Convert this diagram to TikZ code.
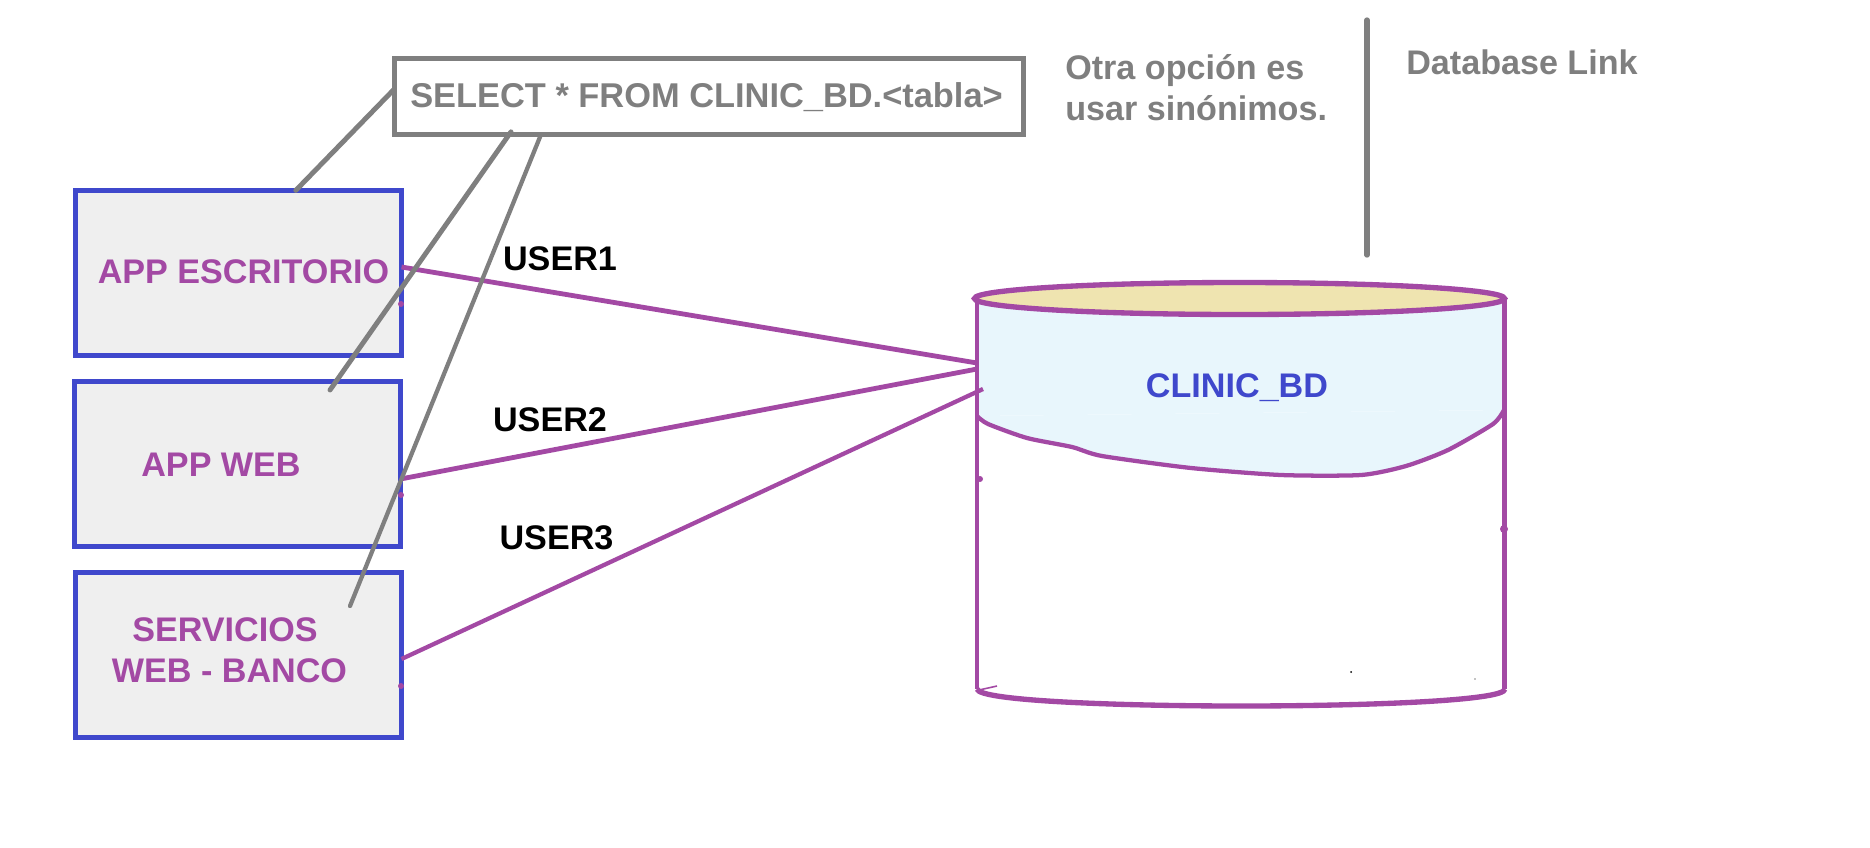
\documentclass[tikz,border=0pt]{standalone}
\usepackage{fontspec}
\setmainfont{Liberation Sans}
\definecolor{linegray}{HTML}{7F7F7F}
\definecolor{boxblue}{HTML}{3F48CC}
\definecolor{dbpurple}{HTML}{A349A4}
\definecolor{boxfill}{HTML}{EFEFEF}
\definecolor{dbtop}{HTML}{EFE4B0}
\definecolor{dbdata}{HTML}{E8F6FC}
\tikzset{
  appbox/.style={draw=boxblue, fill=boxfill, line width=3.6pt, rectangle, inner sep=0pt, outer sep=0pt, minimum width=244.5pt, minimum height=124pt},
  sqlbox/.style={draw=linegray, line width=3.6pt, rectangle, inner sep=0pt, outer sep=0pt, minimum width=472pt, minimum height=57pt},
  label/.style={font=\fontsize{25.6pt}{30pt}\selectfont\bfseries, inner sep=0pt},
  grayline/.style={draw=linegray, line width=3.7pt, line cap=round},
  userline/.style={draw=dbpurple, line width=3.6pt},
  dbline/.style={draw=dbpurple, line width=3.2pt},
  dbedge/.style={draw=dbpurple, line width=4pt}
}
\begin{document}
\begin{tikzpicture}[x=0.75pt, y=-0.75pt]
\useasboundingbox (0, 0) rectangle (1870, 847);

% Boxes on the left and the query
\node[appbox] (escritorio) at (238.5, 273) {};
\node[appbox] (web) at (237.5, 464) {};
\node[appbox] (banco) at (238.5, 655) {};
\node[sqlbox] (consulta) at (709, 96.5) {};

% Database
\fill[dbdata] (977, 298) -- (977, 416) -- (1504, 410) -- (1504, 298) -- cycle;
\fill[dbdata] plot[smooth, tension=0.4] coordinates {(977, 416) (988, 424) (1027, 438) (1072, 447) (1102, 456) (1191, 468) (1281, 475) (1361, 475) (1406, 466) (1448, 450) (1493, 424) (1504, 410)};
\draw[dbline] plot[smooth, tension=0.4] coordinates {(977, 416) (988, 424) (1027, 438) (1072, 447) (1102, 456) (1191, 468) (1281, 475) (1361, 475) (1406, 466) (1448, 450) (1493, 424) (1504, 410)};
\draw[dbline] (977, 298) -- (977, 689);
\draw[dbline] (1504.5, 298) -- (1504.5, 689);
\draw[dbedge] (977, 689) .. controls (979, 701) and (1120, 706) .. (1241, 706) .. controls (1362, 706) and (1505, 701) .. (1505, 689);
\draw[dbedge, fill=dbtop] (1239.5, 298.5) ellipse (265 and 16);

% Small marks left on the drawing
\fill[dbpurple] (401, 304) circle (3);
\fill[dbpurple] (401, 495) circle (3);
\fill[dbpurple] (401, 686) circle (3);
\fill[dbpurple] (980, 479) circle (3);
\fill[dbpurple] (1504, 529) circle (4);
\draw[dbpurple, line width=1.2pt] (979, 690) -- (997, 686);
\fill[black] (1351, 672) circle (1);
\fill[black] (1475, 679) circle (0.7);

% Ends of the connectors
\coordinate (dbuno) at (977, 363);
\coordinate (dbdos) at (977, 369);
\coordinate (dbtres) at (983, 389);
\coordinate (webfin) at (330, 390);
\coordinate (bancofin) at (350, 606);
\coordinate (linkarriba) at (1367, 20);
\coordinate (linkabajo) at (1367, 255);

% Connectors
\draw[userline] ([yshift=4.5pt]escritorio.east) -- (dbuno);
\draw[userline] ([yshift=-11.25pt]web.east) -- (dbdos);
\draw[userline, line width=3.2pt] ([yshift=-3pt]banco.east) -- (dbtres);
\draw[grayline] ([yshift=5.6pt]consulta.west) -- ([xshift=43pt]escritorio.north);
\draw[grayline] ([xshift=-148.5pt, yshift=2pt]consulta.south) -- (webfin);
\draw[grayline, line width=3.2pt] ([xshift=-126pt]consulta.south) -- (bancofin);
\draw[grayline, line width=4pt] (linkarriba) -- (linkabajo);

% Texts
\node[label, font=\fontsize{25.8pt}{30pt}\selectfont\bfseries, anchor=base west, text=linegray] (txtconsulta) at (410, 107) {SELECT * FROM CLINIC\_BD.<tabla>};
\node[label, anchor=base west, text=linegray] (txtotra) at (1065, 79) {Otra opción es};
\node[label, anchor=base west, text=linegray] (txtusar) at (1065, 120) {usar sinónimos.};
\node[label, anchor=base west, text=linegray] (txtlink) at (1406, 74) {Database Link};
\node[label, anchor=base, text=dbpurple] (txtescritorio) at (243.5, 283) {APP ESCRITORIO};
\node[label, anchor=base, text=dbpurple] (txtweb) at (221, 476) {APP WEB};
\node[label, anchor=base, text=dbpurple] (txtservicios) at (225, 641) {SERVICIOS};
\node[label, anchor=base, text=dbpurple] (txtbanco) at (229.5, 682) {WEB - BANCO};
\node[label, anchor=base, text=black] (txtuser1) at (560, 270) {USER1};
\node[label, anchor=base, text=black] (txtuser2) at (550, 431) {USER2};
\node[label, anchor=base, text=black] (txtuser3) at (556.5, 549) {USER3};
\node[label, anchor=base, text=boxblue] (txtbd) at (1237, 397) {CLINIC\_BD};
\end{tikzpicture}
\end{document}
